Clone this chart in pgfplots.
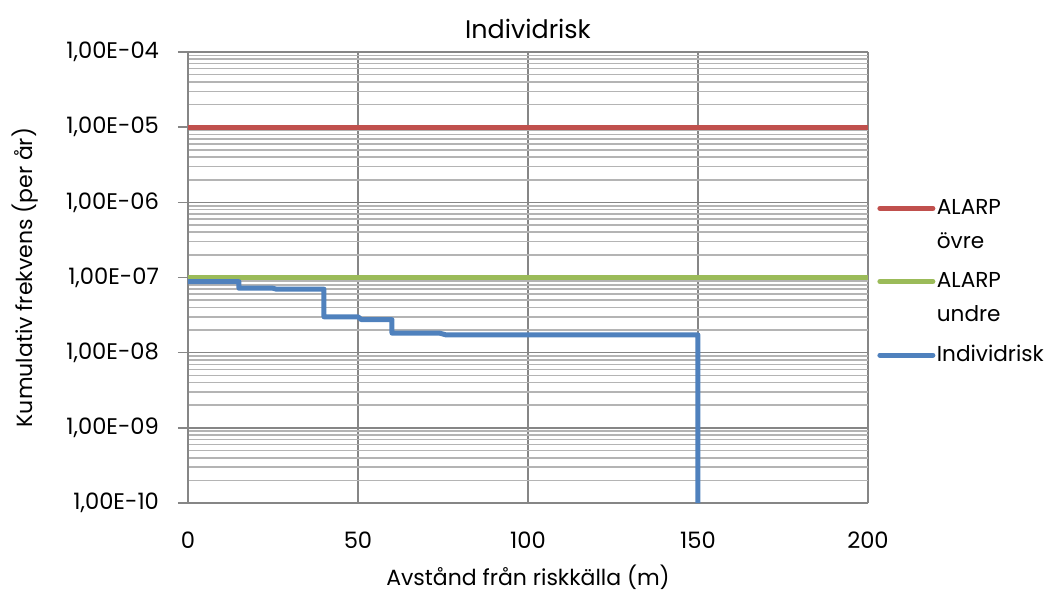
\documentclass[border=0pt]{standalone}
\usepackage{pgfplots}
\pgfplotsset{compat=1.18}
\usepackage{fontspec}
\setmainfont{Poppins}
\definecolor{cred}{HTML}{C0504D}
\definecolor{cgreen}{HTML}{9BBB59}
\definecolor{cblue}{HTML}{4F81BD}
\definecolor{majg}{HTML}{868686}
\definecolor{ming}{HTML}{B4B4B4}
\begin{document}
\begin{tikzpicture}[font=\fontsize{11.3}{17}\selectfont]
\useasboundingbox (0,0) rectangle (523pt,295.5pt);
\begin{axis}[
  at={(94pt,44pt)}, anchor=south west,
  scale only axis, width=340pt, height=225.5pt,
  ymode=log, xmin=0, xmax=200, ymin=1e-10, ymax=1e-4,
  xtick={0,50,100,150,200},
  ytick={1e-10,1e-9,1e-8,1e-7,1e-6,1e-5,1e-4},
  yticklabels={{1,00E-10},{1,00E-09},{1,00E-08},{1,00E-07},{1,00E-06},{1,00E-05},{1,00E-04}},
  xticklabels={0,50,100,150,200},
  grid=both,
  major grid style={majg, line width=0.8pt},
  minor grid style={ming, line width=0.8pt},
  axis line style={majg, line width=0.8pt},
  axis x line*=bottom, axis y line*=left,
  tick style={majg, line width=0.8pt},
  major tick length=5pt, minor tick length=0pt,
  xtick style={draw=none},
  ytick pos=left, tick align=outside,
  yticklabel style={xshift=-6pt},
  xticklabel style={yshift=-6pt},
  title={Individrisk}, title style={yshift=-3pt, font=\fontsize{12.7}{15}\selectfont},
  xlabel={Avstånd från riskkälla (m)},
  ylabel={Kumulativ frekvens (per år)},
  every axis x label/.style={at={(axis description cs:0.5,0)}, anchor=center, yshift=-37pt, font=\fontsize{11}{13}\selectfont},
  every axis y label/.style={at={(axis description cs:-0.2397,0.5)}, anchor=center, rotate=90, font=\fontsize{11}{13}\selectfont},
  legend style={at={(1.0,0.683)}, anchor=north west, xshift=5.75pt, draw=none, fill=none,
    inner sep=0pt, nodes={align=left, inner xsep=2pt}, row sep=6.5pt,
    font=\fontsize{10.8}{17}\selectfont},
  legend cell align=left,
  legend image code/.code={\path[use as bounding box, draw=none, fill=none] (0pt,-3pt) rectangle (26.5pt,3pt);\draw[#1, line width=2.5pt, line cap=round] (0pt,0pt)--(26.5pt,0pt);},
]
\addplot[cred, line width=2.5pt, legend image code/.code={\path[use as bounding box, draw=none, fill=none] (0pt,-3pt) rectangle (26.5pt,3pt);\draw[cred, line width=2.5pt, line cap=round] (0pt,8.5pt)--(26.5pt,8.5pt);}] coordinates {(0,1e-5) (200,1e-5)};
\addlegendentry{ALARP\\övre}
\addplot[cgreen, line width=2.5pt, legend image code/.code={\path[use as bounding box, draw=none, fill=none] (0pt,-3pt) rectangle (26.5pt,3pt);\draw[cgreen, line width=2.5pt, line cap=round] (0pt,8.5pt)--(26.5pt,8.5pt);}] coordinates {(0,1e-7) (200,1e-7)};
\addlegendentry{ALARP\\undre}
\addplot[cblue, line width=2.5pt, line join=round] coordinates {
 (0,8.8e-8) (15,8.8e-8) (15,7.2e-8) (25,7.2e-8) (26,7.0e-8) (40,7.0e-8)
 (40,3.0e-8) (50,3.0e-8) (51,2.75e-8) (60,2.75e-8) (60,1.82e-8) (74,1.82e-8)
 (76,1.72e-8) (150,1.72e-8) (150,1e-10)};
\addlegendentry{Individrisk}
\end{axis}
\end{tikzpicture}
\end{document}
